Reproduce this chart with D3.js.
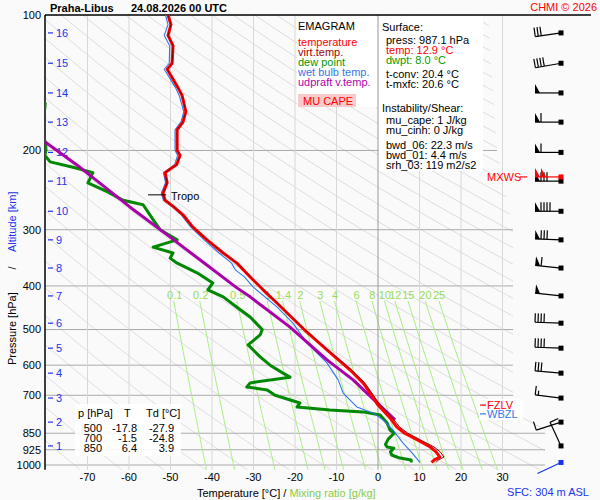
<!DOCTYPE html>
<html lang="en">
<head>
<meta charset="UTF-8">
<title>Emagram Praha-Libus</title>
<style>
    body { margin: 0; background: #fafafa; }
    svg { display: block; font-family: "Liberation Sans", Arial, sans-serif; }
    text { font-size: 11px; }
</style>
<script src="https://d3js.org/d3.v7.min.js"></script>
</head>
<body>
<svg width="600" height="500"></svg>
<script>
    // ---- sounding data ----
    const tempP = [100, 105, 111, 117, 128, 132, 145, 151, 164, 173, 180, 200, 205, 215, 224, 236, 249, 258, 267, 278, 296, 316, 338, 356, 382, 408, 437, 500, 555, 615, 657, 700, 736, 786, 823, 850, 880, 912, 935, 960, 975, 987.1];
    const tempT = [-50.6, -49.9, -50.6, -49.4, -49.6, -50.8, -48.2, -47.2, -46.3, -47.0, -48.4, -48.4, -47.7, -48.5, -51.3, -50.8, -51.8, -51.3, -49.2, -47.0, -44.6, -41.2, -37.3, -34.0, -30.8, -27.7, -24.3, -17.8, -12.3, -6.7, -3.6, -1.5, 0.0, 2.9, 4.5, 6.4, 9.5, 12.6, 14.0, 14.9, 13.5, 12.9];
    const virtT = [-50.6, -49.9, -50.6, -49.4, -49.6, -50.8, -48.2, -47.2, -46.3, -47.0, -48.4, -48.4, -47.7, -48.5, -51.3, -50.8, -51.8, -51.3, -49.2, -47.0, -44.6, -41.2, -37.3, -34.0, -30.8, -27.6, -24.2, -17.7, -12.1, -6.4, -3.2, -1.1, 0.5, 3.5, 5.2, 7.2, 10.3, 13.5, 15.0, 15.9, 14.5, 14.0];

    const dewP = [100, 110, 125, 140, 150, 157, 162, 170, 185, 192, 200, 205, 212, 218, 224, 236, 247, 258, 264, 285, 300, 316, 328, 338, 347, 356, 374, 394, 408, 423, 446, 469, 500, 514, 541, 575, 600, 625, 638, 657, 671, 681, 700, 728, 743, 755, 762, 774, 807, 836, 850, 875, 900, 912, 918, 935, 950, 965, 975, 987.1];
    const dewT = [-86, -84, -85, -82, -82, -80.2, -80.3, -82, -81, -80.1, -80.0, -80.3, -79.0, -73.5, -68.7, -69.9, -65.3, -61.4, -56.6, -54.2, -52.5, -48.4, -54.2, -49.4, -50.1, -48.4, -43.6, -39.8, -41.0, -37.3, -34.0, -30.8, -27.9, -28.4, -31.3, -28.4, -26.0, -22.9, -21.2, -30.8, -31.6, -26.7, -24.8, -18.8, -19.5, -11.6, -3.6, 0.5, 2.2, 2.9, 3.9, 2.5, 1.8, 2.2, 3.8, 3.0, 3.3, 5.3, 8.0, 8.0];

    const wetP = [100, 105, 111, 117, 128, 132, 145, 151, 164, 173, 180, 200, 205, 215, 224, 236, 249, 258, 267, 278, 296, 316, 338, 356, 369, 382, 402, 446, 484, 536, 593, 647, 692, 743, 766, 794, 836, 893, 940, 987.1];
    const wetT = [-51.2, -50.6, -51.5, -50.2, -50.3, -51.5, -48.8, -47.9, -46.8, -47.5, -48.9, -48.9, -48.3, -49.0, -51.7, -51.2, -52.2, -51.7, -49.6, -47.4, -45.1, -41.9, -38.3, -35.3, -34.3, -32.2, -30.1, -24.3, -20.5, -17.1, -12.3, -9.6, -8.4, -5.1, -1.2, 1.2, 3.6, 6.0, 8.2, 10.1];

    const parcelP = [794, 728, 647, 584, 494, 423, 404, 354, 308, 267, 218, 190, 180];
    const parcelT = [4.1, -0.2, -6.0, -12.3, -21.2, -30.8, -34.0, -42.2, -50.8, -59.8, -71.8, -80.7, -84.0];

    // ---- axes / grid ----
    const pTicks = [100, 200, 300, 400, 500, 600, 700, 850, 925, 1000];
    const isobars = [200, 300, 400, 500, 600, 700, 850, 925, 1000];
    const tTicks = [-70, -60, -50, -40, -30, -20, -10, 0, 10, 20, 30];
    const mixRatios = [0.1, 0.2, 0.5, 1, 1.4, 2, 3, 4, 6, 8, 10, 12, 15, 20, 25];
    const thetas = d3.range(190, 600, 10);

    // ---- altitude (km) levels and winds ----
    const kmLabels = [1, 2, 3, 4, 5, 6, 7, 8, 9, 10, 11, 12, 13, 14, 15, 16];
    const kmP = [907, 803, 710, 625, 550, 484, 421, 365, 316, 273, 234, 202, 173, 149, 128, 109.6];
    const windDir = [335, 252, 277, 275, 272, 272, 276, 276, 272, 270, 270, 270, 270, 270, 260, 262];
    const windSpd = [10, 10, 15, 30, 40, 40, 50, 60, 80, 90, 80, 60, 60, 50, 40, 30];
    const mxwsP = 229, mxwsDir = 270, mxwsSpd = 100;
    const sfcP = 987.1, sfcDir = 245;

    const tableHead = ['p [hPa]', 'T', 'Td [°C]'];
    const tableRows = [[500, -17.8, -27.9], [700, -1.5, -24.8], [850, 6.4, 3.9]];

    const legendItems = [
        ['temperature', '#ff0000'],
        ['virt.temp.', '#a00000'],
        ['dew point', '#009900'],
        ['wet bulb temp.', '#3377ee'],
        ['udpraft v.temp.', '#b000b0']
    ];
    const infoLines = [
        ['Surface:', '#000', 0],
        ['press: 987.1 hPa', '#000', 1],
        ['temp: 12.9 °C', '#ff0000', 1],
        ['dwpt: 8.0 °C', '#009900', 1],
        ['t-conv: 20.4 °C', '#000', 1],
        ['t-mxfc: 20.6 °C', '#000', 1],
        ['Instability/Shear:', '#000', 0],
        ['mu_cape: 1 J/kg', '#000', 1],
        ['mu_cinh: 0 J/kg', '#000', 1],
        ['bwd_06: 22.3 m/s', '#000', 1],
        ['bwd_01: 4.4 m/s', '#000', 1],
        ['srh_03: 119 m2/s2', '#000', 1]
    ];
    const infoY = [27, 40, 50, 60, 74, 84, 108, 120, 130, 145, 155, 165];

    const pBottom = 1025;
    const frzP = 736, wbzP = 770, tropoP = 251, tropoT = -51.8;

    // ---- scales ----
    const x = d3.scaleLinear().domain([-80, 30]).range([46, 502.5]);
    const y = d3.scaleLog().domain([100, 1000]).range([15, 465]);
    const plotLeft = 45, plotTop = 15, plotBottom = y(pBottom);

    const svg = d3.select('svg');
    const defs = svg.append('defs');

    defs.append('clipPath').attr('id', 'gridClip')
        .append('polygon')
        .attr('points', [[plotLeft, plotTop], [488, plotTop], [497, y(200)], [513, y(300)], [513, y(700)], [545, y(850) - 5], [545, plotBottom], [plotLeft, plotBottom]].join(' '));
    defs.append('clipPath').attr('id', 'plotClip')
        .append('rect').attr('x', plotLeft).attr('y', plotTop).attr('width', 470).attr('height', plotBottom - plotTop);

    const grid = svg.append('g').attr('clip-path', 'url(#gridClip)');

    // dry adiabats
    const pSteps = d3.range(100, pBottom + 1, 5);
    thetas.forEach(th => {
        grid.append('path')
            .attr('d', d3.line().x(p => x(th * Math.pow(p / 1000, 0.2857) - 273.15)).y(p => y(p))(pSteps))
            .attr('style', 'fill: none; stroke: #dcdcdc; stroke-width: 1px;');
    });

    // isotherms
    tTicks.forEach(t => {
        if (t === 0) return;
        svg.append('line')
            .attr('x1', x(t)).attr('x2', x(t))
            .attr('y1', plotTop).attr('y2', plotBottom)
            .attr('style', 'stroke: #d8d8d8; stroke-width: 1px;');
    });

    // mixing ratio lines
    function tFromW(w, p) {
        const e = w * p / (622 + w);
        const l = Math.log(e / 6.112);
        return 243.5 * l / (17.67 - l);
    }
    const mixP = d3.range(432, pBottom + 1, 8);
    mixRatios.forEach(w => {
        svg.append('path')
            .attr('d', d3.line().x(p => x(tFromW(w, p))).y(p => y(p))(mixP))
            .attr('style', 'fill: none; stroke: #a8ee80; stroke-width: 1px;');
        svg.append('text')
            .attr('x', x(tFromW(w, 420)) + 2)
            .attr('y', y(420))
            .attr('dy', '0.35em')
            .attr('text-anchor', 'middle')
            .attr('fill', '#99dd55')
            .attr('font-size', '10.5px')
            .text(w);
    });

    // legend box
    svg.append('rect').attr('x', 297).attr('y', 16).attr('width', 81).attr('height', 91).attr('fill', '#fff');
    svg.append('text').attr('x', 298).attr('y', 26).attr('dy', '0.35em').text('EMAGRAM');
    legendItems.forEach((d, i) => {
        svg.append('text').attr('x', 298).attr('y', 41.7 + i * 10).attr('dy', '0.35em')
            .attr('fill', d[1]).attr('font-size', '10px').text(d[0]);
    });
    svg.append('rect').attr('x', 298).attr('y', 94).attr('width', 58).attr('height', 13).attr('fill', '#f8caca');
    svg.append('text').attr('x', 303).attr('y', 101).attr('dy', '0.35em').attr('fill', '#ff0000').text('MU CAPE');

    // info box
    svg.append('rect').attr('x', 378).attr('y', 16).attr('width', 105).attr('height', 155).attr('fill', '#fff');
    infoLines.forEach((d, i) => {
        svg.append('text').attr('x', d[2] ? 386 : 382).attr('y', infoY[i]).attr('dy', '0.35em')
            .attr('fill', d[1]).attr('font-size', '10px').text(d[0]);
    });

    // isobars
    isobars.forEach(p => {
        grid.append('line')
            .attr('x1', plotLeft).attr('x2', 560)
            .attr('y1', y(p)).attr('y2', y(p))
            .attr('style', 'stroke: #aaaaaa; stroke-width: 1px;');
    });
    // 0 deg isotherm
    svg.append('line')
        .attr('x1', x(0)).attr('x2', x(0)).attr('y1', plotTop).attr('y2', plotBottom)
        .attr('style', 'stroke: #999; stroke-width: 1px;');

    // frame
    svg.append('line').attr('x1', plotLeft).attr('x2', plotLeft).attr('y1', plotTop).attr('y2', plotBottom)
        .attr('style', 'stroke: #000; stroke-width: 1.5px;');
    svg.append('line').attr('x1', plotLeft).attr('x2', 591).attr('y1', plotTop).attr('y2', plotTop)
        .attr('style', 'stroke: #000; stroke-width: 1.5px;');

    // pressure labels
    pTicks.forEach(p => {
        svg.append('text').attr('x', 41).attr('y', y(p)).attr('dy', '0.35em')
            .attr('text-anchor', 'end').attr('font-size', '12px').text(p);
    });
    // temperature labels
    tTicks.forEach(t => {
        svg.append('text').attr('x', x(t)).attr('y', 477).attr('dy', '0.35em')
            .attr('text-anchor', 'middle').attr('font-size', '12px').text(t);
    });
    // altitude ticks
    kmLabels.forEach((k, i) => {
        svg.append('line').attr('x1', 48).attr('x2', 53).attr('y1', y(kmP[i])).attr('y2', y(kmP[i]))
            .attr('style', 'stroke: #2233ee; stroke-width: 1.2px;');
        svg.append('text').attr('x', 56).attr('y', y(kmP[i])).attr('dy', '0.35em')
            .attr('fill', '#2233ee').text(k);
    });

    // table
    svg.append('rect').attr('x', 75).attr('y', 404).attr('width', 106).attr('height', 52).attr('fill', '#fff').attr('opacity', 0.9);
    const headX = [78, 124, 146];
    tableHead.forEach((h, i) => {
        svg.append('text').attr('x', headX[i]).attr('y', 413).attr('dy', '0.35em').text(h);
    });
    const colX = [102, 137, 174];
    tableRows.forEach((r, j) => {
        r.forEach((v, i) => {
            svg.append('text').attr('x', colX[i]).attr('y', 428 + j * 10.3).attr('dy', '0.35em')
                .attr('text-anchor', 'end').attr('font-size', '10.5px').text(i === 0 ? v : v.toFixed(1));
        });
    });

    // sounding curves
    const curves = svg.append('g').attr('clip-path', 'url(#plotClip)');
    function drawCurve(ps, ts, color, width) {
        const pts = ps.map((p, i) => [ts[i], p]);
        curves.append('path')
            .attr('d', d3.line().x(d => x(d[0])).y(d => y(d[1]))(pts))
            .attr('style', `fill: none; stroke: ${color}; stroke-width: ${width}px; stroke-linejoin: round;`);
    }
    drawCurve(dewP, dewT, '#008800', 3);
    drawCurve(wetP, wetT, '#2f76ee', 1.1);
    drawCurve(parcelP, parcelT, '#aa00aa', 3);
    drawCurve(tempP, tempT, '#ff0000', 3);
    drawCurve(tempP, virtT, '#990000', 1);

    // tropopause
    svg.append('line').attr('x1', x(tropoT) - 15).attr('x2', x(tropoT) + 3)
        .attr('y1', y(tropoP)).attr('y2', y(tropoP)).attr('style', 'stroke: #000; stroke-width: 1px;');
    svg.append('text').attr('x', x(tropoT) + 8).attr('y', y(tropoP) + 1).attr('dy', '0.35em').text('Tropo');

    // FZLV / WBZL
    svg.append('rect').attr('x', 479).attr('y', 399).attr('width', 44).attr('height', 21).attr('fill', '#fff');
    svg.append('line').attr('x1', 480).attr('x2', 486).attr('y1', y(frzP)).attr('y2', y(frzP)).attr('style', 'stroke: #ff0000; stroke-width: 1.2px;');
    svg.append('text').attr('x', 487).attr('y', y(frzP)).attr('dy', '0.35em').attr('fill', '#ff0000').attr('font-size', '10px').text('FZLV');
    svg.append('line').attr('x1', 480).attr('x2', 486).attr('y1', y(wbzP)).attr('y2', y(wbzP)).attr('style', 'stroke: #3377ee; stroke-width: 1.2px;');
    svg.append('text').attr('x', 487).attr('y', y(wbzP) + 0.5).attr('dy', '0.35em').attr('fill', '#3377ee').attr('font-size', '10px').text('WBZL');

    // wind barbs
    const barbX = 561;
    function barb(py, dir, spd, color) {
        const L = 26, bl = 9;
        const a = dir * Math.PI / 180;
        const ux = Math.sin(a), uy = -Math.cos(a);
        const ex = barbX + ux * L, ey = py + uy * L;
        const bx = -uy, by = ux;
        const g = svg.append('g');
        g.append('line').attr('x1', barbX).attr('y1', py).attr('x2', ex).attr('y2', ey)
            .attr('style', `stroke: ${color}; stroke-width: 1.2px;`);
        g.append('rect').attr('x', barbX - 2.5).attr('y', py - 2.5).attr('width', 5).attr('height', 5).attr('fill', color);
        let s = Math.round(spd / 5) * 5;
        let pos = 0;
        while (s >= 50) {
            const x0 = ex - ux * pos, y0 = ey - uy * pos;
            const x1 = ex - ux * (pos + 5), y1 = ey - uy * (pos + 5);
            g.append('polygon')
                .attr('points', [[x0, y0], [x0 + bx * bl, y0 + by * bl], [x1, y1]].join(' '))
                .attr('fill', color);
            pos += 6;
            s -= 50;
        }
        while (s >= 10) {
            const x0 = ex - ux * pos, y0 = ey - uy * pos;
            g.append('line').attr('x1', x0).attr('y1', y0).attr('x2', x0 + bx * bl).attr('y2', y0 + by * bl)
                .attr('style', `stroke: ${color}; stroke-width: 1.2px;`);
            pos += 3;
            s -= 10;
        }
        if (s >= 5) {
            const x0 = ex - ux * pos, y0 = ey - uy * pos;
            g.append('line').attr('x1', x0).attr('y1', y0).attr('x2', x0 + bx * bl / 2).attr('y2', y0 + by * bl / 2)
                .attr('style', `stroke: ${color}; stroke-width: 1.2px;`);
        }
    }
    kmLabels.forEach((k, i) => barb(y(kmP[i]), windDir[i], windSpd[i], '#000'));
    barb(y(mxwsP), mxwsDir, mxwsSpd, '#ff0000');
    barb(y(sfcP), sfcDir, 0, '#1a33ee');

    svg.append('text').attr('x', 487).attr('y', y(mxwsP)).attr('dy', '0.35em').attr('fill', '#ff0000').text('MXWS');
    svg.append('line').attr('x1', 520).attr('x2', 527).attr('y1', y(mxwsP)).attr('y2', y(mxwsP)).attr('style', 'stroke: #ff0000; stroke-width: 1.2px;');

    // titles
    svg.append('text').attr('x', 50).attr('y', 8).attr('dy', '0.35em')
        .attr('font-weight', 'bold').attr('font-size', '12px').text('Praha-Libus');
    svg.append('text').attr('x', 131).attr('y', 8).attr('dy', '0.35em')
        .attr('font-weight', 'bold').attr('font-size', '12px').text('24.08.2026 00 UTC');
    svg.append('text').attr('x', 597).attr('y', 7).attr('dy', '0.35em').attr('text-anchor', 'end')
        .attr('fill', '#ff0000').attr('font-size', '11.5px').text('CHMI © 2026');

    const xt = svg.append('text').attr('x', 197).attr('y', 493).attr('dy', '0.35em');
    xt.append('tspan').text('Temperature [°C]  /  ');
    xt.append('tspan').attr('fill', '#88cc44').text('Mixing ratio [g/kg]');

    svg.append('text').attr('x', 589).attr('y', 492).attr('dy', '0.35em').attr('text-anchor', 'end')
        .attr('fill', '#2233ee').text('SFC: 304 m ASL');

    // rotated y axis title
    svg.append('text').attr('transform', 'translate(12,365) rotate(-90)').attr('dy', '0.35em')
        .attr('font-size', '12px').text('Pressure [hPa]');
    svg.append('text').attr('transform', 'translate(12,268) rotate(-90)').attr('dy', '0.35em')
        .attr('text-anchor', 'middle').attr('font-size', '12px').text('/');
    svg.append('text').attr('transform', 'translate(12,252) rotate(-90)').attr('dy', '0.35em')
        .attr('font-size', '12px').attr('fill', '#2233ee').text('Altitude [km]');
</script>
</body>
</html>
